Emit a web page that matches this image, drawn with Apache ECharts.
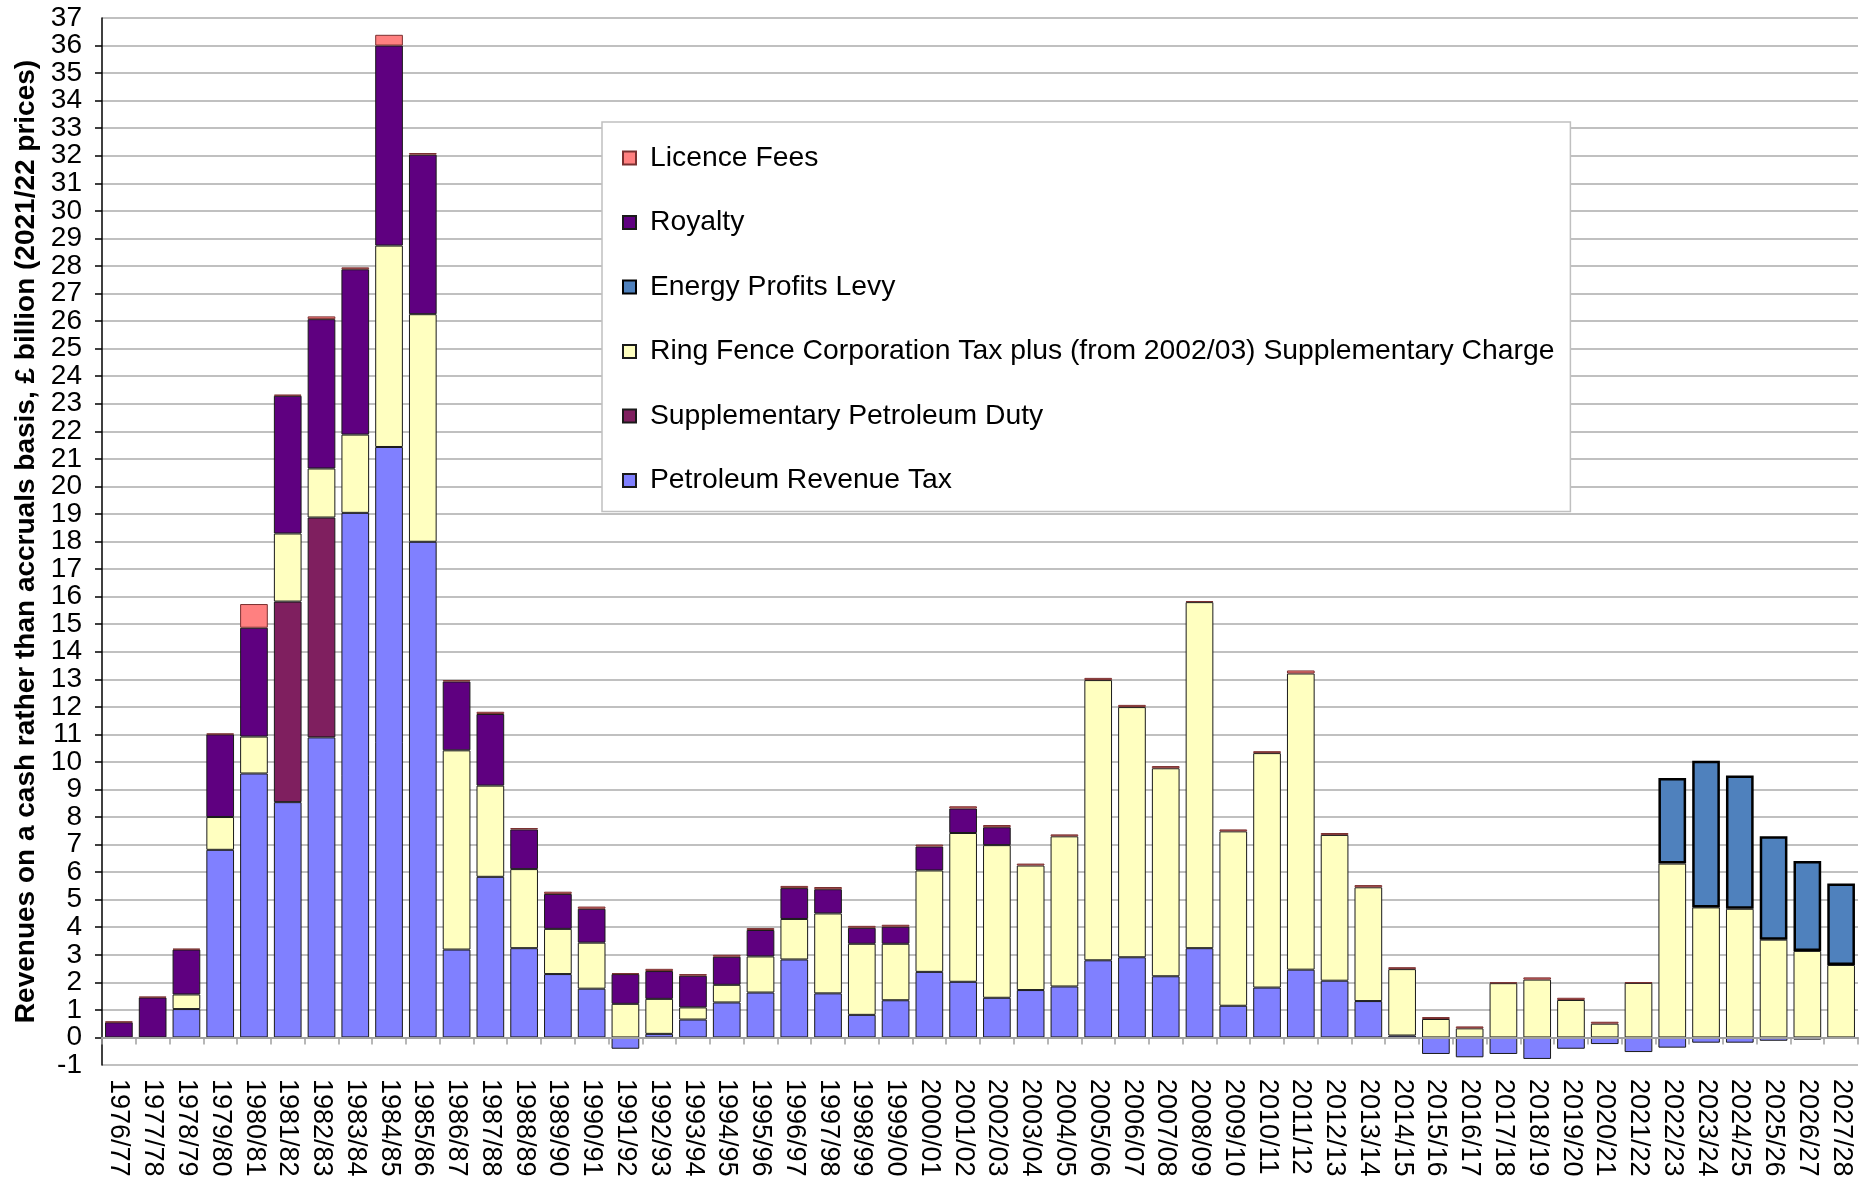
<!DOCTYPE html>
<html><head><meta charset="utf-8">
<script src="https://cdn.jsdelivr.net/npm/echarts@6/dist/echarts.min.js"></script>
<style>html,body{margin:0;padding:0;background:#fff}#c{width:1865px;height:1196px}</style>
</head><body><div id="c"></div>
<script>
const categories = [
'1976/77','1977/78','1978/79','1979/80','1980/81','1981/82','1982/83','1983/84','1984/85','1985/86',
'1986/87','1987/88','1988/89','1989/90','1990/91','1991/92','1992/93','1993/94','1994/95','1995/96',
'1996/97','1997/98','1998/99','1999/00','2000/01','2001/02','2002/03','2003/04','2004/05','2005/06',
'2006/07','2007/08','2008/09','2009/10','2010/11','2011/12','2012/13','2013/14','2014/15','2015/16',
'2016/17','2017/18','2018/19','2019/20','2020/21','2021/22','2022/23','2023/24','2024/25','2025/26',
'2026/27','2027/28'];

const petroleumRevenueTax = [
0, 0, 1.03, 6.81, 9.58, 8.54, 10.89, 19.04, 21.43, 17.99,
3.19, 5.83, 3.24, 2.30, 1.77, -0.41, 0.13, 0.65, 1.27, 1.63,
2.83, 1.60, 0.82, 1.35, 2.38, 2.02, 1.44, 1.72, 1.85, 2.80,
2.91, 2.22, 3.24, 1.15, 1.81, 2.46, 2.06, 1.32, 0.07, -0.60,
-0.72, -0.60, -0.78, -0.41, -0.24, -0.53, -0.37, -0.19, -0.19, -0.12,
-0.08, -0.02];

const supplementaryPetroleumDuty = [
0, 0, 0, 0, 0, 7.28, 7.98, 0, 0, 0,
0, 0, 0, 0, 0, 0, 0, 0, 0, 0,
0, 0, 0, 0, 0, 0, 0, 0, 0, 0,
0, 0, 0, 0, 0, 0, 0, 0, 0, 0,
0, 0, 0, 0, 0, 0, 0, 0, 0, 0,
0, 0];

const ringFenceCT = [
0, 0, 0.53, 1.19, 1.34, 2.47, 1.78, 2.84, 7.31, 8.26,
7.23, 3.31, 2.87, 1.64, 1.67, 1.22, 1.27, 0.44, 0.64, 1.31,
1.47, 2.90, 2.58, 2.05, 3.68, 5.40, 5.54, 4.52, 5.45, 10.17,
9.08, 7.55, 12.56, 6.33, 8.51, 10.75, 5.29, 4.13, 2.41, 0.67,
0.33, 1.97, 2.10, 1.36, 0.50, 1.98, 6.31, 4.72, 4.67, 3.55,
3.14, 2.63];

const energyProfitsLevy = [
0, 0, 0, 0, 0, 0, 0, 0, 0, 0,
0, 0, 0, 0, 0, 0, 0, 0, 0, 0,
0, 0, 0, 0, 0, 0, 0, 0, 0, 0,
0, 0, 0, 0, 0, 0, 0, 0, 0, 0,
0, 0, 0, 0, 0, 0, 3.11, 5.32, 4.84, 3.75,
3.26, 2.96];

const royalty = [
0.55, 1.45, 1.63, 3.00, 3.95, 5.00, 5.42, 6.00, 7.26, 5.79,
2.50, 2.60, 1.44, 1.27, 1.23, 1.08, 1.01, 1.15, 1.02, 0.96,
1.12, 0.88, 0.58, 0.62, 0.87, 0.89, 0.65, -0.03, 0, 0,
0, 0, 0, 0, 0, 0, 0, 0, 0, 0,
0, 0, 0, 0, 0, 0, 0, 0, 0, 0,
0, 0];

const licenceFees = [
0.03, 0.03, 0.03, 0.03, 0.86, 0.04, 0.10, 0.07, 0.39, 0.06,
0.05, 0.08, 0.05, 0.08, 0.08, 0.03, 0.08, 0.06, 0.07, 0.07,
0.08, 0.08, 0.07, 0.07, 0.07, 0.08, 0.08, 0.07, 0.07, 0.08,
0.08, 0.08, 0.04, 0.07, 0.07, 0.11, 0.07, 0.08, 0.07, 0.07,
0.07, 0.03, 0.08, 0.08, 0.07, 0.02, 0, 0, 0, 0,
0, 0];

const yMin = -1, yMax = 37, yStep = 1;

const seriesNames = [
'Petroleum Revenue Tax',
'Supplementary Petroleum Duty',
'Ring Fence Corporation Tax plus (from 2002/03) Supplementary Charge',
'Energy Profits Levy',
'Royalty',
'Licence Fees'];
const legendOrder = [seriesNames[5], seriesNames[4], seriesNames[3], seriesNames[2], seriesNames[1], seriesNames[0]];
const seriesColors = ['#8080FF', '#7F1F5F', '#FFFFC0', '#4F81BD', '#5F0080', '#FF8080'];
const yAxisTitle = 'Revenues on a cash rather than accruals basis, £ billion (2021/22 prices)';

const FONT = "'Liberation Sans', Arial, sans-serif";
const seriesData = [petroleumRevenueTax, supplementaryPetroleumDuty, ringFenceCT, energyProfitsLevy, royalty, licenceFees];
const clean = arr => arr.map(v => (v === 0 ? '-' : v));

const series = seriesData.map((d, i) => ({
  name: seriesNames[i],
  type: 'bar',
  stack: 'total',
  xAxisIndex: 0,
  yAxisIndex: 0,
  barCategoryGap: '18%',
  data: clean(d),
  itemStyle: {
    color: seriesColors[i],
    borderColor: i === 3 ? '#000' : (i === 5 ? '#7a3030' : '#1a1a1a'),
    borderWidth: i === 3 ? 2.5 : 1
  },
  emphasis: { disabled: true }
}));

const yLabelStyle = { fontSize: 28, color: '#000', margin: 20, fontFamily: FONT };

const chart = echarts.init(document.getElementById('c'));
chart.setOption({
  animation: false,
  backgroundColor: '#fff',
  textStyle: { fontFamily: FONT },
  grid: { left: 102, right: 7, top: 18, bottom: 131, containLabel: false },
  legend: {
    data: legendOrder,
    orient: 'vertical',
    left: 602,
    top: 122,
    icon: 'rect',
    itemWidth: 13,
    itemHeight: 13,
    itemGap: 36.5,
    padding: [22, 16, 17, 20],
    backgroundColor: '#fff',
    borderColor: '#c0c0c0',
    borderWidth: 1.5,
    selectedMode: false,
    textStyle: { fontFamily: FONT, fontSize: 28.3, color: '#000', lineHeight: 28, padding: [0, 0, 0, 9] }
  },
  xAxis: [
    {
      type: 'category',
      data: categories,
      axisLine: { onZero: true, onZeroAxisIndex: 0, lineStyle: { color: '#a0a0a0', width: 2 } },
      axisTick: { show: true, interval: 0, length: 7, lineStyle: { color: '#a0a0a0', width: 1.5 } },
      axisLabel: { show: false },
      splitLine: { show: false },
      z: 3
    },
    {
      type: 'category',
      data: categories,
      position: 'bottom',
      axisLine: { show: false, onZero: false },
      axisTick: { show: false },
      axisLabel: { interval: 0, rotate: -90, margin: 14, fontSize: 27, color: '#000', fontFamily: FONT },
      splitLine: { show: false }
    }
  ],
  yAxis: [
    {
      type: 'value',
      position: 'left',
      min: yMin,
      max: yMax,
      interval: yStep,
      name: yAxisTitle,
      nameLocation: 'middle',
      nameGap: 62,
      nameTextStyle: { fontFamily: FONT, fontSize: 28, fontWeight: 'bold', color: '#000' },
      axisLine: { show: true, lineStyle: { color: '#000', width: 1.5 } },
      axisTick: { show: true, length: 7, lineStyle: { color: '#000', width: 1.5 } },
      axisLabel: Object.assign({}, yLabelStyle, {
        showMinLabel: false, showMaxLabel: false,
        formatter: v => (v === yMin || v === yMax ? '' : String(v))
      }),
      splitLine: { show: true, lineStyle: { color: '#c0c0c0', width: 2 } }
    },
    {
      type: 'value',
      position: 'left',
      min: yMin,
      max: yMax,
      interval: yStep,
      axisLine: { show: false, onZero: false },
      axisTick: { show: false },
      splitLine: { show: false },
      axisLabel: Object.assign({}, yLabelStyle, {
        showMinLabel: true, showMaxLabel: true,
        formatter: v => (v === yMin || v === yMax ? String(v) : '')
      })
    }
  ],
  series: series
});
</script>
</body></html>
